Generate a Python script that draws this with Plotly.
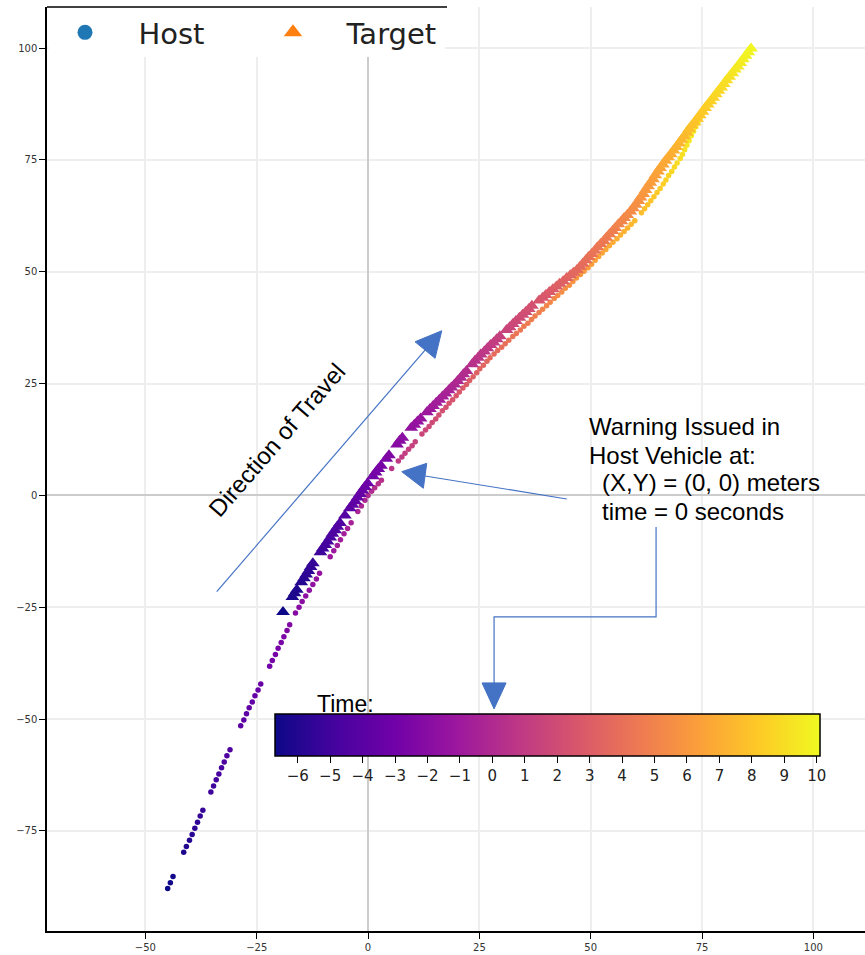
import plotly.graph_objects as go

# ---------------- data ----------------
host_x = [-45.0, -44.4, -43.8, -41.4, -40.8, -40.1, -39.5, -38.9, -38.3, -37.7, -37.1,
          -35.3, -34.7, -34.1, -33.5, -32.9, -32.3, -31.7, -31.0,
          -28.6, -27.9, -27.3, -26.7, -26.0, -25.4, -24.7, -24.1,
          -22.1, -21.5, -20.8, -20.2, -19.5, -18.9, -18.2, -17.6,
          -16.3, -15.5, -14.8, -14.0, -13.2, -12.4, -11.6, -10.9,
          -8.5, -7.7, -6.9, -6.2, -5.4, -4.6, -3.8,
          -2.3, -1.5, -0.7, 0.0,
          0.8, 1.5, 2.3, 3.0, 5.3, 6.8, 7.6, 8.3, 9.1, 9.9, 10.6,
          12.1, 12.9, 13.7, 14.4, 15.2, 15.9, 16.7, 17.5, 18.2, 19.0, 19.8, 20.5,
          21.3, 22.1, 22.8, 23.6, 24.4, 25.1, 25.9, 26.7, 27.4, 28.3, 29.1, 30.0,
          30.8, 31.6, 32.5, 33.3, 34.2, 35.0, 35.9, 36.7, 37.5, 38.4, 39.2, 40.1,
          40.9, 41.8, 42.6, 43.5, 44.3, 45.2, 46.0, 46.8, 47.7, 48.5, 49.4, 50.2,
          51.0, 51.8, 52.6, 53.4, 54.2, 55.0, 55.9, 56.7, 57.5, 58.3, 59.1, 59.9,
          61.4, 62.1, 62.8, 63.5, 64.2, 64.9, 65.6, 66.3, 66.9, 67.5, 68.2, 68.8,
          69.4, 70.1, 70.6, 71.1, 71.6, 72.1, 72.6, 73.1, 73.6, 74.1, 74.6, 75.1]
host_y = [-87.9, -86.6, -85.2, -79.8, -78.5, -77.1, -75.8, -74.4, -73.1, -71.7, -70.4,
          -66.3, -65.0, -63.6, -62.3, -60.9, -59.6, -58.2, -56.9,
          -51.5, -50.2, -48.8, -47.5, -46.2, -44.8, -43.5, -42.2,
          -38.2, -36.9, -35.6, -34.2, -32.9, -31.6, -30.2, -28.9,
          -26.3, -25.0, -23.7, -22.5, -21.2, -19.9, -18.7, -17.4,
          -13.7, -12.4, -11.2, -9.9, -8.6, -7.4, -6.1,
          -3.6, -2.4, -1.1, 0.0,
          0.9, 1.7, 2.6, 3.4, 6.0, 7.7, 8.6, 9.4, 10.3, 11.1, 12.0,
          13.7, 14.6, 15.4, 16.3, 17.1, 18.0, 18.9, 19.7, 20.6, 21.4, 22.3, 23.1,
          24.0, 24.8, 25.7, 26.5, 27.4, 28.3, 29.1, 30.0, 30.8, 31.6, 32.4, 33.1,
          33.9, 34.7, 35.5, 36.2, 37.0, 37.8, 38.5, 39.3, 40.1, 40.9, 41.6, 42.4,
          43.2, 44.0, 44.7, 45.5, 46.3, 47.0, 47.8, 48.6, 49.4, 50.1, 50.9, 51.7,
          52.6, 53.4, 54.2, 55.0, 55.8, 56.6, 57.4, 58.2, 59.0, 59.8, 60.6, 61.4,
          63.2, 64.1, 65.0, 65.9, 66.8, 67.7, 68.6, 69.6, 70.5, 71.5, 72.4, 73.4,
          74.3, 75.3, 76.2, 77.3, 78.3, 79.3, 80.4, 81.4, 82.4, 83.4, 84.5, 85.5]
host_t = [-6.7, -6.6, -6.5, -6.1, -6.0, -5.9, -5.8, -5.7, -5.6, -5.5, -5.4,
          -5.1, -5.0, -4.9, -4.8, -4.7, -4.6, -4.5, -4.4,
          -4.0, -3.9, -3.8, -3.7, -3.6, -3.5, -3.4, -3.3,
          -3.0, -2.9, -2.8, -2.7, -2.6, -2.5, -2.4, -2.3,
          -2.1, -2.0, -1.9, -1.8, -1.7, -1.6, -1.5, -1.4,
          -1.1, -1.0, -0.9, -0.8, -0.7, -0.6, -0.5,
          -0.3, -0.2, -0.1, 0.0,
          0.1, 0.2, 0.3, 0.4, 0.7, 0.9, 1.0, 1.1, 1.2, 1.3, 1.4,
          1.6, 1.7, 1.8, 1.9, 2.0, 2.1, 2.2, 2.3, 2.4, 2.5, 2.6, 2.7,
          2.8, 2.9, 3.0, 3.1, 3.2, 3.3, 3.4, 3.5, 3.6, 3.7, 3.8, 3.9,
          4.0, 4.1, 4.2, 4.3, 4.4, 4.5, 4.6, 4.7, 4.8, 4.9, 5.0, 5.1,
          5.2, 5.3, 5.4, 5.5, 5.6, 5.7, 5.8, 5.9, 6.0, 6.1, 6.2, 6.3,
          6.4, 6.5, 6.6, 6.7, 6.8, 6.9, 7.0, 7.1, 7.2, 7.3, 7.4, 7.5,
          7.7, 7.8, 7.9, 8.0, 8.1, 8.2, 8.3, 8.4, 8.5, 8.6, 8.7, 8.8,
          8.9, 9.0, 9.1, 9.2, 9.3, 9.4, 9.5, 9.6, 9.7, 9.8, 9.9, 10.0]

target_x = [-19.1, -17.0, -16.5, -16.0, -15.0, -14.4, -13.9, -13.4, -12.9, -12.4,
            -10.7, -10.2, -9.6, -9.1, -8.5, -8.0, -7.4, -6.9, -6.3, -5.2,
            -4.1, -3.5, -2.9, -2.4, -1.8, -1.3, -0.7, -0.1, 1.1, 1.7, 2.3, 2.9,
            4.1, 4.7, 6.5, 7.1, 7.7, 9.7, 10.4, 11.1, 11.8, 13.2, 13.9, 14.6,
            15.3, 16.0, 16.7, 17.4, 18.1, 18.7, 19.4, 20.1, 20.8, 21.4, 22.1,
            23.4, 24.0, 24.7, 25.3, 26.1, 26.8, 27.5, 28.2, 28.9, 29.6,
            31.1, 31.8, 32.5, 33.2, 34.0, 34.7, 35.4, 36.1, 36.8,
            38.4, 39.2, 39.9, 40.7, 41.5, 42.3, 43.0, 43.8, 44.6, 45.4, 46.1, 46.9,
            47.6, 48.2, 48.9, 49.5, 50.2, 50.9, 51.5, 52.2,
            52.9, 53.5, 54.2, 54.9, 55.5, 56.2, 56.9, 57.5, 58.2, 58.9, 59.5,
            60.1, 60.7, 61.2, 61.8, 62.3, 62.9, 63.4, 64.0, 64.5, 65.1,
            65.6, 66.2, 66.8, 67.4, 68.0, 68.6, 69.2, 69.8,
            70.4, 71.0, 71.6, 72.1, 72.7, 73.3, 73.9, 74.5,
            75.1, 75.7, 76.3, 76.9, 77.5, 78.1, 78.7, 79.3, 79.9,
            80.5, 81.1, 81.8, 82.4, 83.0, 83.6, 84.2, 84.8, 85.4, 86.0]
target_y = [-26.1, -22.7, -21.9, -21.1, -19.4, -18.5, -17.7, -16.9, -16.0, -15.2,
            -12.7, -11.9, -11.1, -10.3, -9.4, -8.6, -7.8, -7.0, -6.2, -4.5,
            -2.9, -2.1, -1.3, -0.5, 0.3, 1.1, 1.9, 2.7, 4.3, 5.1, 5.9, 6.6,
            8.2, 9.0, 11.4, 12.2, 12.9, 15.1, 15.8, 16.5, 17.2, 18.6, 19.3, 20.0,
            20.7, 21.4, 22.1, 22.8, 23.5, 24.1, 24.8, 25.6, 26.3, 27.1, 27.8,
            29.3, 30.1, 30.8, 31.5, 32.2, 32.9, 33.6, 34.2, 34.9, 35.6,
            37.0, 37.6, 38.3, 39.0, 39.7, 40.4, 41.0, 41.7, 42.4,
            43.6, 44.2, 44.8, 45.5, 46.1, 46.7, 47.3, 47.9, 48.6, 49.2, 49.8, 50.4,
            51.1, 51.8, 52.6, 53.3, 54.0, 54.7, 55.5, 56.2,
            56.9, 57.6, 58.4, 59.1, 59.8, 60.6, 61.3, 62.0, 62.7, 63.5, 64.2,
            65.0, 65.8, 66.6, 67.4, 68.3, 69.1, 69.9, 70.7, 71.6, 72.4,
            73.2, 74.0, 74.8, 75.6, 76.3, 77.1, 77.9, 78.7,
            79.5, 80.3, 81.1, 81.9, 82.7, 83.4, 84.2, 85.0,
            85.8, 86.6, 87.4, 88.1, 88.9, 89.7, 90.5, 91.2, 92.0,
            92.8, 93.6, 94.4, 95.2, 95.9, 96.7, 97.5, 98.3, 99.1, 99.9]
target_t = [-6.7, -6.3, -6.2, -6.1, -5.9, -5.8, -5.7, -5.6, -5.5, -5.4,
            -5.1, -5.0, -4.9, -4.8, -4.7, -4.6, -4.5, -4.4, -4.3, -4.1,
            -3.9, -3.8, -3.7, -3.6, -3.5, -3.4, -3.3, -3.2, -3.0, -2.9, -2.8, -2.7,
            -2.5, -2.4, -2.1, -2.0, -1.9, -1.6, -1.5, -1.4, -1.3, -1.1, -1.0, -0.9,
            -0.8, -0.7, -0.6, -0.5, -0.4, -0.3, -0.2, -0.1, 0.0, 0.1, 0.2,
            0.4, 0.5, 0.6, 0.7, 0.8, 0.9, 1.0, 1.1, 1.2, 1.3,
            1.5, 1.6, 1.7, 1.8, 1.9, 2.0, 2.1, 2.2, 2.3,
            2.5, 2.6, 2.7, 2.8, 2.9, 3.0, 3.1, 3.2, 3.3, 3.4, 3.5, 3.6,
            3.7, 3.8, 3.9, 4.0, 4.1, 4.2, 4.3, 4.4,
            4.5, 4.6, 4.7, 4.8, 4.9, 5.0, 5.1, 5.2, 5.3, 5.4, 5.5,
            5.6, 5.7, 5.8, 5.9, 6.0, 6.1, 6.2, 6.3, 6.4, 6.5,
            6.6, 6.7, 6.8, 6.9, 7.0, 7.1, 7.2, 7.3,
            7.4, 7.5, 7.6, 7.7, 7.8, 7.9, 8.0, 8.1,
            8.2, 8.3, 8.4, 8.5, 8.6, 8.7, 8.8, 8.9, 9.0,
            9.1, 9.2, 9.3, 9.4, 9.5, 9.6, 9.7, 9.8, 9.9, 10.0]

time_range = [-6.7, 10.1]
time_ticks = [-6, -5, -4, -3, -2, -1, 0, 1, 2, 3, 4, 5, 6, 7, 8, 9, 10]
x_ticks = [-50, -25, 0, 25, 50, 75, 100]
y_ticks = [-75, -50, -25, 0, 25, 50, 75, 100]

# ---------------- figure ----------------
ARROW = "#4472c4"
TXT_FONT = "Liberation Sans, Arial, sans-serif"
NB = "\u00a0\u00a0\u00a0\u2009"

fig = go.Figure()
fig.add_trace(go.Scatter(
    x=host_x, y=host_y, mode="markers", name="Host", showlegend=False,
    marker=dict(symbol="circle", size=5.5, color=host_t, coloraxis="coloraxis",
                line=dict(width=0))))
fig.add_trace(go.Scatter(
    x=target_x, y=target_y, mode="markers", name="Target", showlegend=False,
    marker=dict(symbol="triangle-up", size=12, color=target_t, coloraxis="coloraxis",
                line=dict(width=0))))
# legend entries (matplotlib default colours)
fig.add_trace(go.Scatter(x=[None], y=[None], mode="markers", name=NB + "Host",
                         marker=dict(symbol="circle", size=15, color="#1f77b4")))
fig.add_trace(go.Scatter(x=[None], y=[None], mode="markers", name=NB + "Target",
                         marker=dict(symbol="triangle-up", size=18, color="#ff7f0e")))

W, H = 865, 955
ML, MR, MT, MB = 47, 0, 7, 24
PW, PH = W - ML - MR, H - MT - MB

fig.update_layout(
    width=W, height=H,
    margin=dict(l=ML, r=MR, t=MT, b=MB, pad=0, autoexpand=False),
    paper_bgcolor="white", plot_bgcolor="white",
    coloraxis=dict(
        colorscale="Plasma", cmin=time_range[0], cmax=time_range[1],
        colorbar=dict(
            orientation="h",
            x=(275 - ML) / PW, xanchor="left",
            y=(H - MB - 714) / PH, yanchor="top",
            len=545, lenmode="pixels",
            thickness=42, thicknessmode="pixels",
            xpad=0, ypad=0,
            outlinecolor="black", outlinewidth=1.5,
            ticks="outside", ticklen=7, tickwidth=1.2, tickcolor="black",
            tickvals=time_ticks,
            tickfont=dict(size=15, family="DejaVu Sans", color="#222"),
            bgcolor="rgba(0,0,0,0)",
        ),
    ),
    legend=dict(
        orientation="h", x=18 / PW, y=1, xanchor="left", yanchor="top",
        bgcolor="rgba(0,0,0,0)", borderwidth=0,
        font=dict(size=29, family="DejaVu Sans", color="#222"),
        entrywidth=163, itemsizing="trace",
    ),
    xaxis=dict(
        range=[-72.1, 111.6], tickvals=x_ticks,
        showline=True, linecolor="black", linewidth=1.5,
        ticks="outside", ticklen=6, tickcolor="black", tickwidth=1,
        showgrid=True, gridcolor="#eeeeee", gridwidth=1.5,
        zeroline=True, zerolinecolor="#cccccc", zerolinewidth=2,
        tickfont=dict(size=10, family="DejaVu Sans", color="#333"),
    ),
    yaxis=dict(
        range=[-97.4, 109.2], tickvals=y_ticks,
        showline=True, linecolor="black", linewidth=1.5,
        ticks="outside", ticklen=6, tickcolor="black", tickwidth=1,
        showgrid=True, gridcolor="#eeeeee", gridwidth=1.5,
        zeroline=True, zerolinecolor="#cccccc", zerolinewidth=2,
        tickfont=dict(size=10, family="DejaVu Sans", color="#333"),
    ),
)

shapes = [
    # white legend box and top frame line over it
    dict(type="rect", xref="paper", yref="paper", x0=0.002, x1=(445 - ML) / PW,
         y0=(H - MB - 57) / PH, y1=1, fillcolor="white", line=dict(width=0), layer="above"),
    dict(type="line", xref="paper", yref="paper", x0=0, x1=(447 - ML) / PW, y0=1, y1=1,
         line=dict(color="black", width=1.5), layer="above"),
    # direction of travel arrow
    dict(type="line", xref="x", yref="y", x0=-33.98, y0=-21.52, x1=12.8, y1=32.5,
         line=dict(color=ARROW, width=1.2), layer="above"),
    dict(type="path", xref="x", yref="y", path="M 16.55,36.81 L 10.55,34.35 L 15.05,30.64 Z",
         fillcolor=ARROW, line=dict(color=ARROW, width=1), layer="above"),
    # warning arrow to host vehicle
    dict(type="line", xref="x", yref="y", x0=44.62, y0=-0.80, x1=12.8, y1=4.34,
         line=dict(color=ARROW, width=1.2), layer="above"),
    dict(type="path", xref="x", yref="y", path="M 7.57,5.30 L 13.18,7.17 L 12.42,1.59 Z",
         fillcolor=ARROW, line=dict(color=ARROW, width=1), layer="above"),
    # elbow arrow to colour bar
    dict(type="path", xref="x", yref="y",
         path="M 64.68,-7.06 L 64.68,-27.18 L 28.30,-27.18 L 28.30,-41.93",
         line=dict(color=ARROW, width=1.2), layer="above"),
    dict(type="path", xref="x", yref="y", path="M 28.30,-47.74 L 25.60,-41.93 L 30.99,-41.93 Z",
         fillcolor=ARROW, line=dict(color=ARROW, width=1), layer="above"),
]
fig.update_layout(shapes=shapes)

ann_font = dict(size=24, family=TXT_FONT, color="black")
annotations = [
    dict(x=-20.66, y=12.38, xref="x", yref="y", text="Direction of Travel", showarrow=False,
         textangle=-49, font=ann_font, xanchor="center", yanchor="middle"),
    dict(x=49.18, y=15.51, xref="x", yref="y", text="Warning Issued in", showarrow=False,
         font=ann_font, xanchor="left", yanchor="middle"),
    dict(x=49.18, y=8.81, xref="x", yref="y", text="Host Vehicle at:", showarrow=False,
         font=ann_font, xanchor="left", yanchor="middle"),
    dict(x=52.1, y=2.84, xref="x", yref="y", text="(X,Y) = (0, 0) meters", showarrow=False,
         font=ann_font, xanchor="left", yanchor="middle"),
    dict(x=52.1, y=-3.64, xref="x", yref="y", text="time = 0 seconds", showarrow=False,
         font=ann_font, xanchor="left", yanchor="middle"),
    dict(x=-11.9, y=-46.6, xref="x", yref="y", text="Time:", showarrow=False,
         font=dict(size=23, family=TXT_FONT, color="black"), xanchor="left", yanchor="middle"),
]
fig.update_layout(annotations=annotations)

fig.write_html("out.html", config={"displayModeBar": False},
               post_script="document.body.style.margin='0';document.body.style.padding='0';")
